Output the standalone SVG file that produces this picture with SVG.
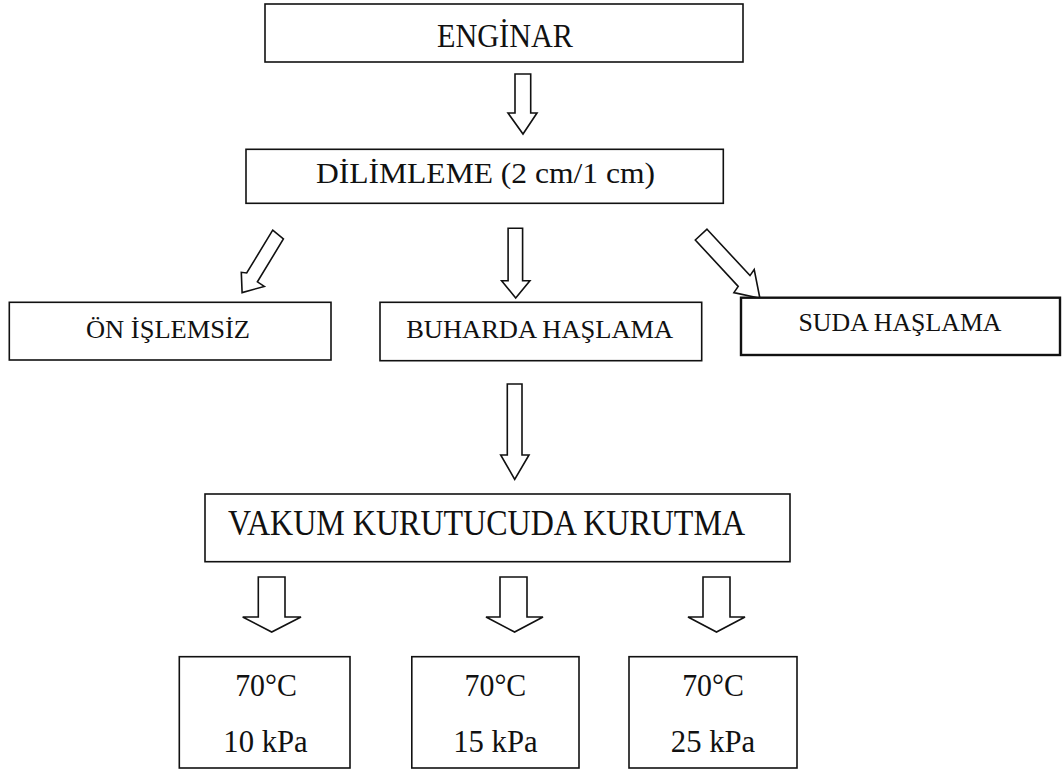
<svg xmlns="http://www.w3.org/2000/svg" width="1062" height="774" viewBox="0 0 1062 774">
<style>
.box{fill:#fff;stroke:#111;stroke-width:1.6}
.thick{stroke-width:2.4}
.arr{fill:#fff;stroke:#111;stroke-width:1.6;stroke-linejoin:miter}
text{font-family:"Liberation Serif","Times New Roman",serif;fill:#111;text-anchor:middle}
</style>
<rect width="1062" height="774" fill="#fff"/>
<g id="connectors">
<polygon class="arr" points="515,74 530.7,74 530.7,113 537,113 523,134 508,113 515,113"/>
<polygon class="arr" points="272.7,230.2 283.4,239 257.4,281.8 264.3,286.4 242.1,292.6 241.3,272.3 246.7,273"/>
<polygon class="arr" points="508.1,228.3 522.6,228.3 522.6,280.7 529.9,280.7 515.7,297.9 501.6,280.7 508.1,280.7"/>
<polygon class="arr" points="707,229.2 750,275.6 754.2,269.6 759.9,298.3 733.9,292.6 738.2,286.4 695.3,240"/>
<polygon class="arr" points="507.3,384 522,384 522,455 529,455 514.7,479.3 500.7,455 507.3,455"/>
<polygon class="arr" points="258.3,577 285,577 285,617 301,617 271.7,632 242.7,617 258.3,617"/>
<polygon class="arr" points="500,577 527,577 527,617 543,617 514.6,632 486,617 500,617"/>
<polygon class="arr" points="703,577 730,577 730,617 745,617 716.5,632 688,617 703,617"/>
</g>
<g id="enginar">
<rect class="box" x="265" y="4" width="478" height="58"/>
<text x="505" y="47" font-size="33" textLength="136" lengthAdjust="spacingAndGlyphs">ENGİNAR</text>
</g>
<g id="dilimleme">
<rect class="box" x="246" y="149.3" width="477.3" height="54"/>
<text x="485.5" y="183.3" font-size="30" textLength="339" lengthAdjust="spacingAndGlyphs">DİLİMLEME (2 cm/1 cm)</text>
</g>
<g id="onislemsiz">
<rect class="box" x="9.3" y="302.3" width="321.7" height="57.7"/>
<text x="168" y="338.3" font-size="26" textLength="164" lengthAdjust="spacingAndGlyphs">ÖN İŞLEMSİZ</text>
</g>
<g id="buharda">
<rect class="box" x="380" y="302.3" width="321.7" height="58.4"/>
<text x="539.7" y="338.3" font-size="26" textLength="267" lengthAdjust="spacingAndGlyphs">BUHARDA HAŞLAMA</text>
</g>
<g id="suda">
<rect class="box thick" x="741" y="297.7" width="319" height="57.3"/>
<text x="900" y="331" font-size="26" textLength="203" lengthAdjust="spacingAndGlyphs">SUDA HAŞLAMA</text>
</g>
<g id="vakum">
<rect class="box" x="205" y="494" width="585" height="67.7"/>
<text x="486.5" y="535" font-size="35" textLength="517" lengthAdjust="spacingAndGlyphs">VAKUM KURUTUCUDA KURUTMA</text>
</g>
<g id="k10">
<rect class="box" x="179.3" y="656.7" width="170.7" height="111.3"/>
<text x="266" y="696" font-size="32" textLength="61.7" lengthAdjust="spacingAndGlyphs">70°C</text>
<text x="265.5" y="751.7" font-size="32" textLength="84.4" lengthAdjust="spacingAndGlyphs">10 kPa</text>
</g>
<g id="k15">
<rect class="box" x="411.8" y="656.7" width="167.2" height="111.3"/>
<text x="495.4" y="696" font-size="32" textLength="61.7" lengthAdjust="spacingAndGlyphs">70°C</text>
<text x="495.4" y="751.7" font-size="32" textLength="84.4" lengthAdjust="spacingAndGlyphs">15 kPa</text>
</g>
<g id="k25">
<rect class="box" x="629" y="656.7" width="168" height="111.3"/>
<text x="713" y="696" font-size="32" textLength="61.7" lengthAdjust="spacingAndGlyphs">70°C</text>
<text x="713" y="751.7" font-size="32" textLength="84.4" lengthAdjust="spacingAndGlyphs">25 kPa</text>
</g>
</svg>
